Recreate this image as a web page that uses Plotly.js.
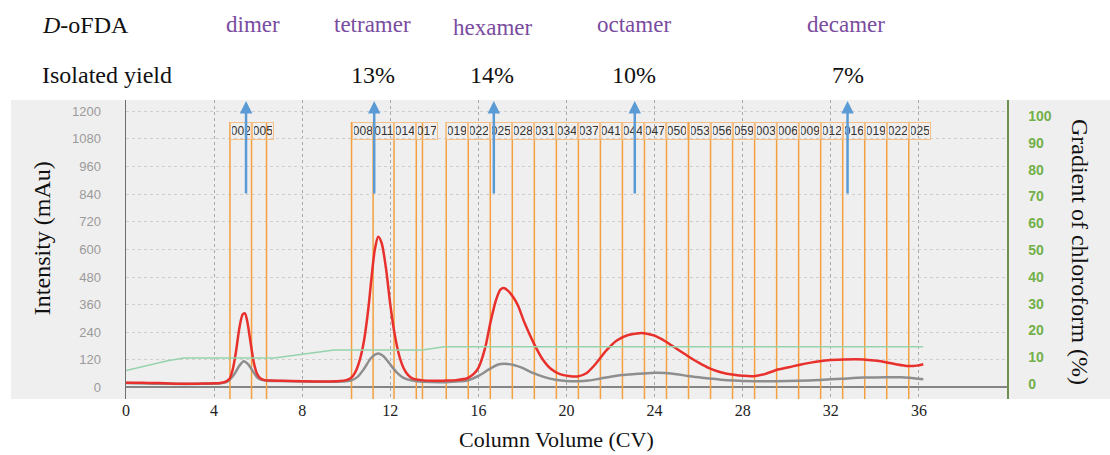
<!DOCTYPE html>
<html>
<head>
<meta charset="utf-8">
<script src="https://cdn.plot.ly/plotly-3.0.1.min.js"></script>
<style>html,body{margin:0;padding:0;background:#fff}#chart{width:1110px;height:455px}</style>
</head>
<body>
<div id="chart"></div>
<script>
// ---- data ----
const redCV = [0,0.5,1,1.5,2,2.5,3,3.5,4,4.3,4.5,4.7,4.85,5,5.15,5.3,5.4,5.5,5.65,5.8,5.95,6.1,6.3,6.6,7,8,9,9.7,10,10.2,10.4,10.6,10.8,11,11.15,11.3,11.45,11.6,11.8,12,12.2,12.4,12.6,12.8,13,13.4,14,14.5,15,15.5,15.8,16,16.3,16.55,16.8,17,17.15,17.35,17.6,17.8,18.1,18.5,18.9,19.3,19.7,20.1,20.5,20.9,21.3,21.8,22.3,22.8,23.3,23.6,24,24.5,25,25.5,26,26.5,27,27.6,28.5,29,29.6,30.1,30.6,31.1,31.5,32,32.6,33.5,34,34.5,35,35.5,35.9,36.2];
const redMAU = [21,21,20,19,17,16,16,17,18,20,24,38,80,160,260,318,322,290,200,110,60,40,32,30,29,27,26,28,32,40,65,115,200,340,480,600,655,630,520,360,230,140,85,55,40,32,29,30,32,40,60,85,170,284,380,425,432,420,390,355,280,195,125,80,58,50,48,62,100,160,205,228,236,235,225,200,168,137,108,83,66,55,49,58,78,88,99,108,114,119,122,122,117,110,100,93,95,101];

const grayCV = [0,2,3.5,4.3,4.6,4.9,5.15,5.35,5.55,5.8,6,6.3,7,8,9,9.8,10.2,10.5,10.8,11.1,11.35,11.5,11.7,12,12.3,12.6,13,13.5,14.4,15,15.5,16,16.5,16.9,17.2,17.6,18,18.5,19,19.5,20,20.5,21,21.5,22,22.5,23,23.5,24,24.5,25,25.5,26,26.5,27,27.6,28.5,29.5,30.5,31.5,32.5,33.5,34.5,35.2,36.2];
const grayMAU = [20,16,16,18,25,55,95,114,100,65,40,30,28,26,25,26,30,45,80,125,145,147,135,100,65,42,30,25,23,26,30,50,80,100,103,98,85,62,45,34,28,27,30,38,47,54,58,61,64,63,58,50,44,39,34,30,27,27,29,33,38,43,45,44,36];

const gradCV  = [0,1.89,2.64,6.73,9.45,12.78,13.46,14.44,36.19];
const gradPct = [5.0,8.7,9.7,9.7,12.7,12.7,12.7,13.9,13.9];

const fractionCV = [4.72,5.70,6.38,10.24,11.22,12.17,13.18,13.46,14.54,15.54,16.54,17.54,18.54,19.54,20.54,21.54,22.54,23.54,24.54,25.54,26.54,27.54,28.54,29.54,30.54,31.54,32.54,33.54,34.54,35.54];
const fractionLabel = ['002','005','','008','011','014','017','','019','022','025','028','031','034','037','041','044','047','050','053','056','059','003','006','009','012','016','019','022','025'];

const productNames = ['dimer','tetramer','hexamer','octamer','decamer'];
const productCV    = [5.76,11.2,16.66,23.06,32.68];
const yieldText    = ['','13%','14%','10%','7%'];
const yieldCV      = [5.76,11.2,16.6,23.06,32.8];
const arrowCV      = [5.45,11.27,16.7,23.1,32.76];

const xTicks = [0,4,8,12,16,20,24,28,32,36];
const yTicks = [0,120,240,360,480,600,720,840,960,1080,1200];
const y2Ticks = [0,10,20,30,40,50,60,70,80,90,100];

// ---- build ----
const serif = 'Liberation Serif, Times New Roman, serif';
const sans = 'Liberation Sans, Arial, sans-serif';

const fx = [], fy = [];
fractionCV.forEach(v => { fx.push(v, v, null); fy.push(-60, 1153, null); });

const traces = [
  {x: fx, y: fy, mode: 'lines', line: {color: '#f4a040', width: 1.5}, hoverinfo: 'skip', showlegend: false},
  {x: gradCV, y: gradPct, yaxis: 'y2', mode: 'lines', line: {color: '#95d3ad', width: 1.5}, showlegend: false},
  {x: grayCV, y: grayMAU, mode: 'lines', line: {color: '#8e8e8e', width: 2.5, shape: 'spline', smoothing: 0.8}, showlegend: false},
  {x: redCV, y: redMAU, mode: 'lines', line: {color: '#e8302c', width: 2.5, shape: 'spline', smoothing: 0.8}, showlegend: false}
];

const annotations = [];
// fraction labels
fractionCV.forEach((v, i) => {
  if (!fractionLabel[i]) return;
  annotations.push({x: v, y: 1116, xref: 'x', yref: 'y', xanchor: 'left', yanchor: 'middle',
    text: fractionLabel[i], showarrow: false, width: 18, height: 14, borderpad: 1, borderwidth: 1,
    bordercolor: '#f6bf85', font: {family: sans, size: 12, color: '#333'}});
});
// arrows
arrowCV.forEach(v => {
  annotations.push({x: v, y: 1245, ax: v, ay: 836, xref: 'x', yref: 'y', axref: 'x', ayref: 'y',
    text: '', showarrow: true, arrowhead: 2, arrowsize: 1, arrowwidth: 2.5, arrowcolor: '#5b9bd5'});
});
// product names and yields
productNames.forEach((n, i) => {
  annotations.push({x: productCV[i], y: i === 2 ? 1.241 : 1.251, xref: 'x', yref: 'paper', text: n, showarrow: false,
    xanchor: 'center', yanchor: 'middle', font: {family: serif, size: 23, color: '#7a4ca0'}});
  if (yieldText[i]) annotations.push({x: yieldCV[i], y: 1.0836, xref: 'x', yref: 'paper', text: yieldText[i], showarrow: false,
    xanchor: 'center', yanchor: 'middle', font: {family: serif, size: 24, color: '#111'}});
});
annotations.push({x: -0.0976, y: 1.251, xref: 'paper', yref: 'paper', xanchor: 'left', yanchor: 'middle', showarrow: false,
  text: '<i>D</i>-oFDA', font: {family: serif, size: 24, color: '#111'}});
annotations.push({x: -0.0976, y: 1.0836, xref: 'paper', yref: 'paper', xanchor: 'left', yanchor: 'middle', showarrow: false,
  text: 'Isolated yield', font: {family: serif, size: 24, color: '#111'}});
// axis titles
annotations.push({x: -0.0953, y: 0.538, xref: 'paper', yref: 'paper', xanchor: 'center', yanchor: 'middle', textangle: -90, showarrow: false,
  text: 'Intensity (mAu)', font: {family: serif, size: 24, color: '#111'}});
annotations.push({x: 1.0829, y: 0.4916, xref: 'paper', yref: 'paper', xanchor: 'center', yanchor: 'middle', textangle: 90, showarrow: false,
  text: 'Gradient of chloroform (%)', font: {family: serif, size: 24, color: '#111'}});
annotations.push({x: 0.489, y: -0.137, xref: 'paper', yref: 'paper', xanchor: 'center', yanchor: 'middle', showarrow: false,
  text: 'Column Volume (CV)', font: {family: serif, size: 22, color: '#111'}});

const layout = {
  width: 1110, height: 455,
  margin: {l: 126, r: 103, t: 100, b: 56},
  paper_bgcolor: '#ffffff', plot_bgcolor: '#f0efef',
  showlegend: false,
  xaxis: {range: [0, 40], tickvals: xTicks, ticktext: xTicks.map(String), showgrid: true, gridcolor: '#a8a8a8', griddash: 'dot', gridwidth: 1,
    zeroline: false, showline: false, ticks: '', tickfont: {family: serif, size: 16, color: '#222'}},
  yaxis: {range: [-50, 1249], tickvals: yTicks, ticktext: yTicks.map(String), showgrid: true, gridcolor: '#cfcfcf', griddash: 'dot', gridwidth: 1,
    zeroline: true, zerolinecolor: '#858585', zerolinewidth: 2, showline: true, linecolor: '#6e6e6e', linewidth: 1.5,
    ticks: 'outside', ticklen: 21, tickcolor: 'rgba(0,0,0,0)', tickfont: {family: sans, size: 13, color: '#9a9a9a'}},
  yaxis2: {range: [-5.6, 106], overlaying: 'y', side: 'right', tickvals: y2Ticks, ticktext: y2Ticks.map(String), showgrid: false, zeroline: false,
    showline: true, linecolor: '#6f8f50', linewidth: 1.5, ticks: 'outside', ticklen: 17, tickcolor: 'rgba(0,0,0,0)',
    tickfont: {family: sans, size: 14, color: '#72b04a', weight: 'bold'}},
  shapes: [{type: 'rect', xref: 'paper', yref: 'paper', x0: -0.1305, x1: 1.117, y0: 0, y1: 1, fillcolor: '#f0efef', line: {width: 0}, layer: 'below'}],
  annotations: annotations
};

Plotly.newPlot('chart', traces, layout, {staticPlot: true, displayModeBar: false});
</script>
</body>
</html>
